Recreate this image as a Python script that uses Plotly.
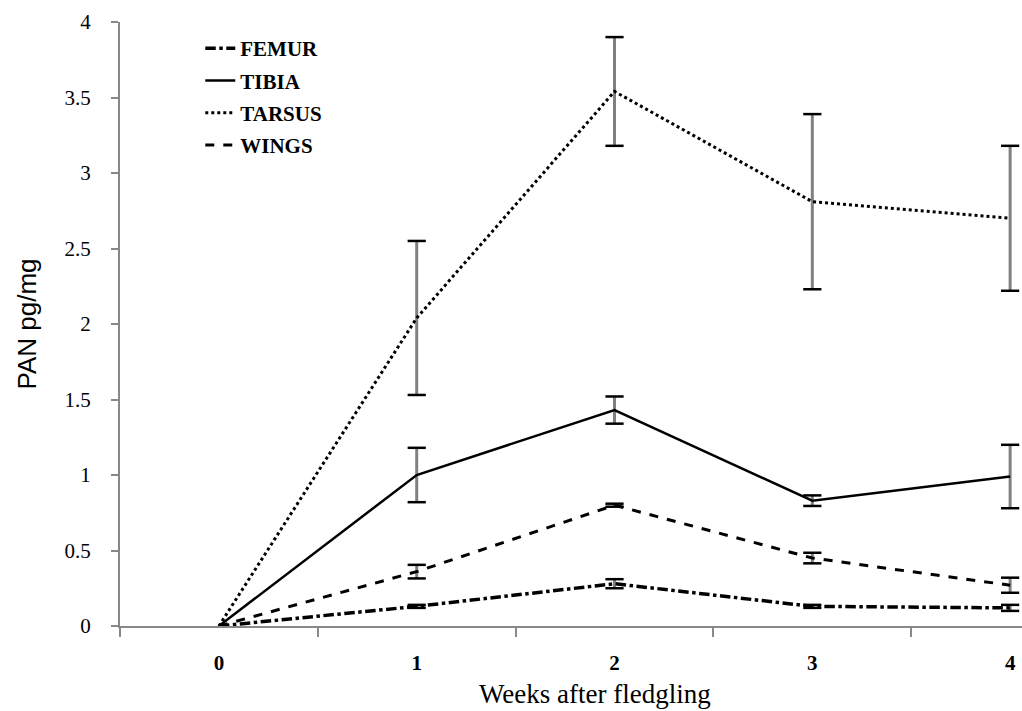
import plotly.graph_objects as go

weeks = [0, 1, 2, 3, 4]
week_labels = ["0", "1", "2", "3", "4"]

femur = [0, 0.13, 0.28, 0.13, 0.12]
femur_err = [0, 0.01, 0.03, 0.01, 0.02]
tibia = [0, 1.00, 1.43, 0.83, 0.99]
tibia_err = [0, 0.18, 0.09, 0.035, 0.21]
tarsus = [0, 2.04, 3.54, 2.81, 2.70]
tarsus_err = [0, 0.51, 0.36, 0.58, 0.48]
wings = [0, 0.36, 0.80, 0.45, 0.27]
wings_err = [0, 0.045, 0.01, 0.035, 0.05]

series = [
    ("FEMUR", femur, femur_err, "dashdot", 3.5),
    ("TIBIA", tibia, tibia_err, "solid", 2.5),
    ("TARSUS", tarsus, tarsus_err, "dot", 3),
    ("WINGS", wings, wings_err, "dash", 3),
]

fig = go.Figure()

# error bar stems (gray) and caps (black)
for name, vals, errs, dash, w in series:
    xs = weeks[1:]
    ys = vals[1:]
    es = errs[1:]
    fig.add_trace(go.Scatter(
        x=xs, y=ys, mode="markers", marker=dict(size=0.1, color="rgba(0,0,0,0)"),
        error_y=dict(type="data", array=es, visible=True, color="#808080", thickness=3, width=0),
        showlegend=False, hoverinfo="skip"))
    capx = xs + xs
    capy = [y + e for y, e in zip(ys, es)] + [y - e for y, e in zip(ys, es)]
    fig.add_trace(go.Scatter(
        x=capx, y=capy, mode="markers",
        marker=dict(symbol="line-ew", size=13, line=dict(width=2.5, color="black")),
        showlegend=False, hoverinfo="skip"))

for name, vals, errs, dash, w in series:
    fig.add_trace(go.Scatter(
        x=weeks, y=vals, mode="lines", name=name, legendgroup=name,
        line=dict(color="black", dash=dash, width=w)))

fig.add_annotation(
    text="Weeks after fledgling", xref="paper", yref="paper",
    x=0.527, y=-0.113, xanchor="center", yanchor="middle", showarrow=False,
    font=dict(family="Liberation Serif", size=27, color="black"))

fig.update_layout(
    width=1022, height=711,
    margin=dict(l=120, r=0, t=22, b=85),
    paper_bgcolor="white", plot_bgcolor="white",
    font=dict(family="Liberation Serif", color="black"),
    legend=dict(x=0.089, y=0.99, xanchor="left", yanchor="top",
                font=dict(family="Liberation Serif", size=21, color="black", weight="bold"),
                bgcolor="rgba(0,0,0,0)", tracegroupgap=2),
    xaxis=dict(
        range=[-0.5, 4.06], tickvals=weeks, ticktext=week_labels, ticks="",
        tickfont=dict(family="Liberation Serif", size=21, weight="bold"),
        ticklabelstandoff=17,
        showline=True, linecolor="#888888", linewidth=2, showgrid=False, zeroline=False,
        minor=dict(tickvals=[-0.5, 0.5, 1.5, 2.5, 3.5], ticks="outside", ticklen=9,
                   tickcolor="#888888", tickwidth=2),
    ),
    yaxis=dict(
        range=[0, 4], dtick=0.5, ticks="outside", ticklen=7, tickcolor="#888888", tickwidth=2,
        tickfont=dict(family="Liberation Serif", size=21), ticklabelstandoff=16,
        showline=True, linecolor="#888888", linewidth=2, showgrid=False, zeroline=False,
        title=dict(text="PAN pg/mg", standoff=20,
                   font=dict(family="Liberation Sans", size=26)),
    ),
)

fig.write_html("out.html", config={"displayModeBar": False},
               post_script="document.body.style.margin='0px';")
